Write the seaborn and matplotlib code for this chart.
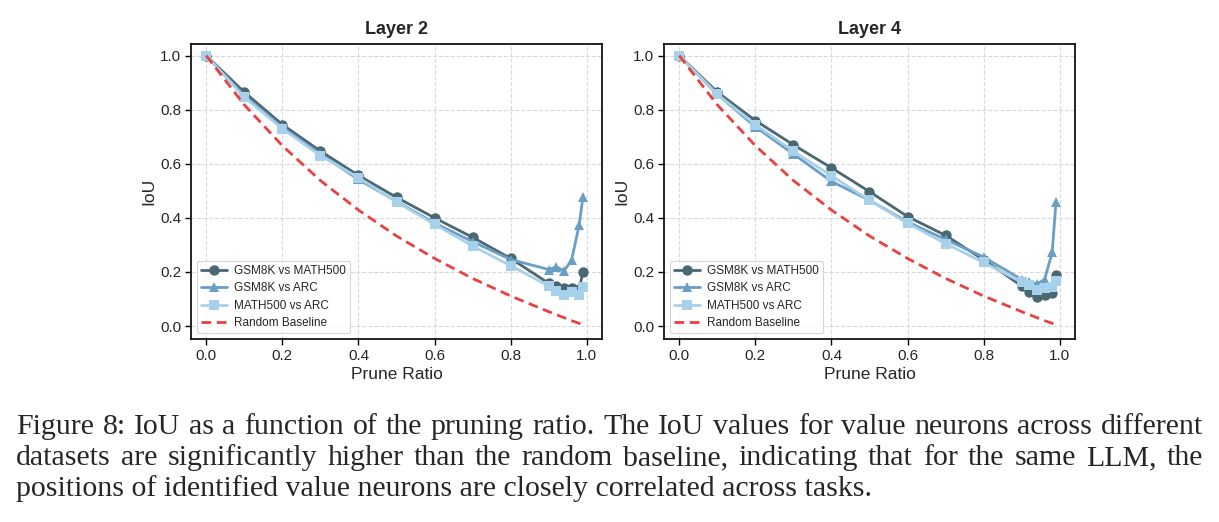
import matplotlib
matplotlib.use("Agg")
import matplotlib.pyplot as plt
import seaborn as sns
import numpy as np

prune_ratio = [0.0, 0.1, 0.2, 0.3, 0.4, 0.5, 0.6, 0.7, 0.8, 0.9, 0.92, 0.94, 0.96, 0.98, 0.99]

l2_gsm_math = [1.0, 0.865, 0.745, 0.647, 0.557, 0.476, 0.400, 0.328, 0.250, 0.158, 0.148, 0.140, 0.142, 0.136, 0.200]
l2_gsm_arc = [1.0, 0.852, 0.735, 0.636, 0.542, 0.461, 0.381, 0.312, 0.246, 0.209, 0.219, 0.204, 0.243, 0.374, 0.477]
l2_math_arc = [1.0, 0.846, 0.730, 0.630, 0.549, 0.459, 0.376, 0.296, 0.223, 0.148, 0.129, 0.115, 0.127, 0.115, 0.145]

l4_gsm_math = [1.0, 0.865, 0.760, 0.670, 0.585, 0.497, 0.405, 0.335, 0.245, 0.148, 0.127, 0.106, 0.115, 0.121, 0.190]
l4_gsm_arc = [1.0, 0.857, 0.737, 0.636, 0.535, 0.465, 0.385, 0.320, 0.255, 0.172, 0.162, 0.156, 0.172, 0.272, 0.457]
l4_math_arc = [1.0, 0.857, 0.745, 0.646, 0.556, 0.465, 0.380, 0.305, 0.235, 0.162, 0.150, 0.135, 0.140, 0.145, 0.165]

random_baseline = [1.0, 0.818, 0.667, 0.538, 0.429, 0.333, 0.250, 0.176, 0.111, 0.053, 0.042, 0.031, 0.020, 0.010, 0.005]

series_names = ["GSM8K vs MATH500", "GSM8K vs ARC", "MATH500 vs ARC", "Random Baseline"]
titles = ["Layer 2", "Layer 4"]
x_ticks = [0.0, 0.2, 0.4, 0.6, 0.8, 1.0]
y_ticks = [0.0, 0.2, 0.4, 0.6, 0.8, 1.0]

caption_lines = [
    "Figure 8: IoU as a function of the pruning ratio. The IoU values for value neurons across different",
    "datasets are significantly higher than the random baseline, indicating that for the same LLM, the",
    "positions of identified value neurons are closely correlated across tasks.",
]

sns.set_style("ticks")
plt.rcParams["font.family"] = ["Liberation Sans", "DejaVu Sans"]

colors = ["#4b6772", "#6a9fc5", "#a7d0ea"]
markers = ["o", "^", "s"]
red = "#e8413f"

fig = plt.figure(figsize=(12.19, 5.22), dpi=100)
W, H = 1219, 522
axes_px = [(191, 44, 602, 339), (664, 44, 1075, 339)]

panels = [(l2_gsm_math, l2_gsm_arc, l2_math_arc), (l4_gsm_math, l4_gsm_arc, l4_math_arc)]

for (x0, y0, x1, y1), title, data in zip(axes_px, titles, panels):
    ax = fig.add_axes([x0 / W, 1 - y1 / H, (x1 - x0) / W, (y1 - y0) / H])
    for vals, name, c, m in zip(data, series_names[:3], colors, markers):
        sns.lineplot(x=prune_ratio, y=vals, ax=ax, color=c, marker=m, markersize=7.5,
                     linewidth=2.0, markeredgewidth=0, label=name)
    sns.lineplot(x=prune_ratio, y=random_baseline, ax=ax, color=red, linestyle="--",
                 linewidth=2.0, label=series_names[3])
    ax.lines[-1].set_dashes((3.5, 2))
    ax.set_xlim(-0.04, 1.04)
    ax.set_ylim(-0.048, 1.043)
    ax.set_xticks(x_ticks)
    ax.set_yticks(y_ticks)
    ax.set_xticklabels([f"{t:.1f}" for t in x_ticks], fontsize=11)
    ax.set_yticklabels([f"{t:.1f}" for t in y_ticks], fontsize=11)
    ax.grid(True, linestyle="--", color="#d9d9d9", linewidth=0.8)
    ax.set_axisbelow(True)
    for s in ax.spines.values():
        s.set_color("black")
        s.set_linewidth(1.2)
    ax.tick_params(length=4, width=1, color="black", pad=3)
    ax.set_title(title, fontsize=13, fontweight="bold", pad=7)
    ax.set_xlabel("Prune Ratio", fontsize=12.5, labelpad=3)
    ax.set_ylabel("IoU", fontsize=12.5, labelpad=3)
    leg = ax.legend(loc="lower left", fontsize=8.5, frameon=True, handlelength=2.2,
                    borderpad=0.35, labelspacing=0.45, handletextpad=0.6,
                    bbox_to_anchor=(0.0, 0.0))
    leg.get_frame().set_edgecolor("#cccccc")
    leg.get_frame().set_linewidth(0.8)

# caption, justified lines
fig.canvas.draw()
renderer = fig.canvas.get_renderer()
cap_font = dict(fontsize=21.5, family=["Liberation Serif", "DejaVu Serif"])
left_px, right_px = 16, 1203
baselines = [434, 465, 496]
for i, (line, yb) in enumerate(zip(caption_lines, baselines)):
    yf = 1 - yb / H
    if i < 2:
        words = line.split(" ")
        tmp = [fig.text(0, 0, w, **cap_font) for w in words]
        widths = [t.get_window_extent(renderer).width for t in tmp]
        for t in tmp:
            t.remove()
        gap = (right_px - left_px - sum(widths)) / (len(words) - 1)
        x = left_px
        for w, wd in zip(words, widths):
            fig.text(x / W, yf, w, ha="left", va="baseline", **cap_font)
            x += wd + gap
    else:
        fig.text(left_px / W, yf, line, ha="left", va="baseline", **cap_font)

fig.savefig("out.png", dpi=100)
